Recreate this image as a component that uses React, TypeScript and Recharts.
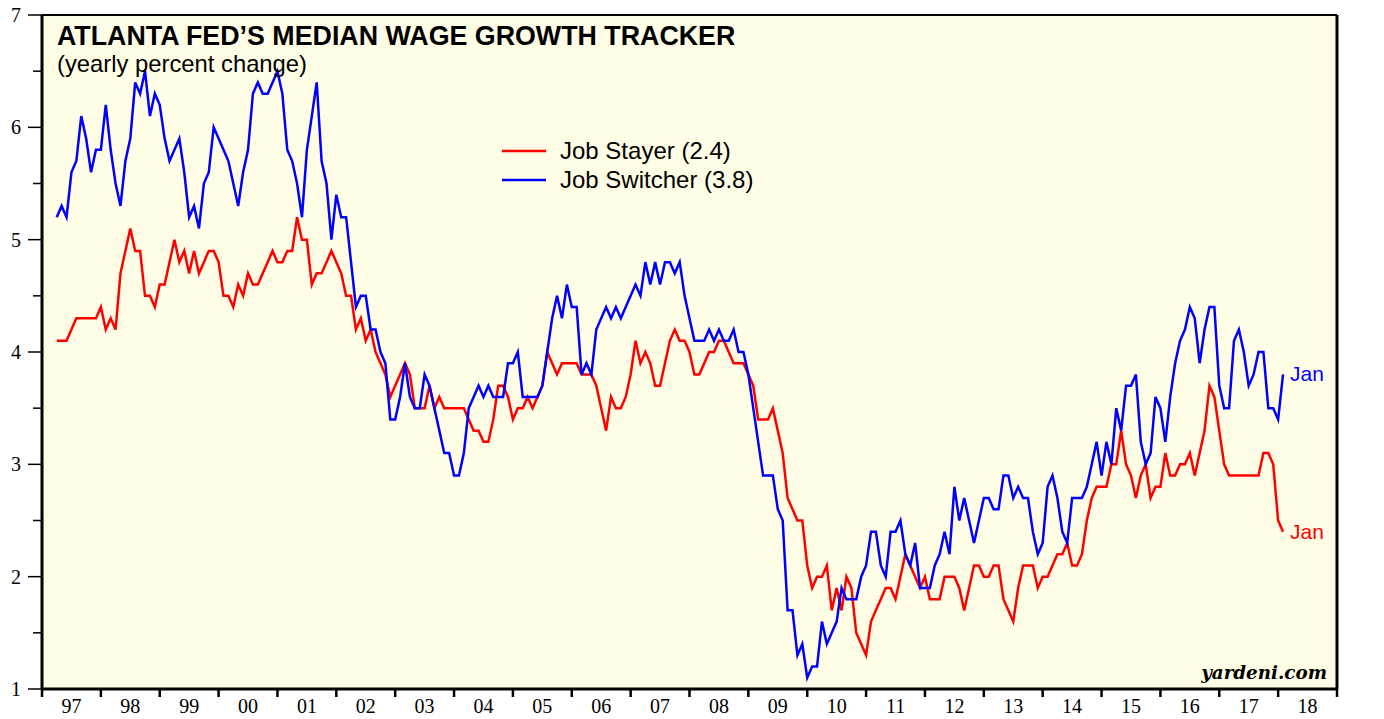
import React from 'react';
import { LineChart, Line, XAxis, YAxis, CartesianGrid, ReferenceLine } from 'recharts';

// months counted from Jan 1997, each value plotted at the end of its month (first = Mar 1997)
const firstMonth = 3;
const years = ['97', '98', '99', '00', '01', '02', '03', '04', '05', '06', '07', '08', '09', '10', '11', '12', '13', '14', '15', '16', '17', '18'];
const yearTicks = years.map((_, i) => i * 12).concat(years.length * 12);
const valueTicks = [1, 1.5, 2, 2.5, 3, 3.5, 4, 4.5, 5, 5.5, 6, 6.5, 7];

const jobStayer = [
  4.1, 4.1, 4.1, 4.2, 4.3, 4.3, 4.3, 4.3, 4.3, 4.4,
  4.2, 4.3, 4.2, 4.7, 4.9, 5.1, 4.9, 4.9, 4.5, 4.5,
  4.4, 4.6, 4.6, 4.8, 5.0, 4.8, 4.9, 4.7, 4.9, 4.7,
  4.8, 4.9, 4.9, 4.8, 4.5, 4.5, 4.4, 4.6, 4.5, 4.7,
  4.6, 4.6, 4.7, 4.8, 4.9, 4.8, 4.8, 4.9, 4.9, 5.2,
  5.0, 5.0, 4.6, 4.7, 4.7, 4.8, 4.9, 4.8, 4.7, 4.5,
  4.5, 4.2, 4.3, 4.1, 4.2, 4.0, 3.9, 3.8, 3.6, 3.7,
  3.8, 3.9, 3.8, 3.5, 3.5, 3.5, 3.7, 3.5, 3.6, 3.5,
  3.5, 3.5, 3.5, 3.5, 3.4, 3.3, 3.3, 3.2, 3.2, 3.4,
  3.7, 3.7, 3.6, 3.4, 3.5, 3.5, 3.6, 3.5, 3.6, 3.7,
  4.0, 3.9, 3.8, 3.9, 3.9, 3.9, 3.9, 3.8, 3.8, 3.8,
  3.7, 3.5, 3.3, 3.6, 3.5, 3.5, 3.6, 3.8, 4.1, 3.9,
  4.0, 3.9, 3.7, 3.7, 3.9, 4.1, 4.2, 4.1, 4.1, 4.0,
  3.8, 3.8, 3.9, 4.0, 4.0, 4.1, 4.1, 4.0, 3.9, 3.9,
  3.9, 3.8, 3.7, 3.4, 3.4, 3.4, 3.5, 3.3, 3.1, 2.7,
  2.6, 2.5, 2.5, 2.1, 1.9, 2.0, 2.0, 2.1, 1.7, 1.9,
  1.7, 2.0, 1.9, 1.5, 1.4, 1.3, 1.6, 1.7, 1.8, 1.9,
  1.9, 1.8, 2.0, 2.2, 2.1, 2.0, 1.9, 2.0, 1.8, 1.8,
  1.8, 2.0, 2.0, 2.0, 1.9, 1.7, 1.9, 2.1, 2.1, 2.0,
  2.0, 2.1, 2.1, 1.8, 1.7, 1.6, 1.9, 2.1, 2.1, 2.1,
  1.9, 2.0, 2.0, 2.1, 2.2, 2.2, 2.3, 2.1, 2.1, 2.2,
  2.5, 2.7, 2.8, 2.8, 2.8, 3.0, 3.0, 3.3, 3.0, 2.9,
  2.7, 2.9, 3.0, 2.7, 2.8, 2.8, 3.1, 2.9, 2.9, 3.0,
  3.0, 3.1, 2.9, 3.1, 3.3, 3.7, 3.6, 3.3, 3.0, 2.9,
  2.9, 2.9, 2.9, 2.9, 2.9, 2.9, 3.1, 3.1, 3.0, 2.5, 2.4,
];

const jobSwitcher = [
  5.2, 5.3, 5.2, 5.6, 5.7, 6.1, 5.9, 5.6, 5.8, 5.8,
  6.2, 5.8, 5.5, 5.3, 5.7, 5.9, 6.4, 6.3, 6.5, 6.1,
  6.3, 6.2, 5.9, 5.7, 5.8, 5.9, 5.6, 5.2, 5.3, 5.1,
  5.5, 5.6, 6.0, 5.9, 5.8, 5.7, 5.5, 5.3, 5.6, 5.8,
  6.3, 6.4, 6.3, 6.3, 6.4, 6.5, 6.3, 5.8, 5.7, 5.5,
  5.2, 5.8, 6.1, 6.4, 5.7, 5.5, 5.0, 5.4, 5.2, 5.2,
  4.8, 4.4, 4.5, 4.5, 4.2, 4.2, 4.0, 3.9, 3.4, 3.4,
  3.6, 3.9, 3.6, 3.5, 3.5, 3.8, 3.7, 3.5, 3.3, 3.1,
  3.1, 2.9, 2.9, 3.1, 3.5, 3.6, 3.7, 3.6, 3.7, 3.6,
  3.6, 3.6, 3.9, 3.9, 4.0, 3.6, 3.6, 3.6, 3.6, 3.7,
  4.0, 4.3, 4.5, 4.3, 4.6, 4.4, 4.4, 3.8, 3.9, 3.8,
  4.2, 4.3, 4.4, 4.3, 4.4, 4.3, 4.4, 4.5, 4.6, 4.5,
  4.8, 4.6, 4.8, 4.6, 4.8, 4.8, 4.7, 4.8, 4.5, 4.3,
  4.1, 4.1, 4.1, 4.2, 4.1, 4.2, 4.1, 4.1, 4.2, 4.0,
  4.0, 3.8, 3.5, 3.2, 2.9, 2.9, 2.9, 2.6, 2.5, 1.7,
  1.7, 1.3, 1.4, 1.1, 1.2, 1.2, 1.6, 1.4, 1.5, 1.6,
  1.9, 1.8, 1.8, 1.8, 2.0, 2.1, 2.4, 2.4, 2.1, 2.0,
  2.4, 2.4, 2.5, 2.2, 2.1, 2.3, 1.9, 1.9, 1.9, 2.1,
  2.2, 2.4, 2.2, 2.8, 2.5, 2.7, 2.5, 2.3, 2.5, 2.7,
  2.7, 2.6, 2.6, 2.9, 2.9, 2.7, 2.8, 2.7, 2.7, 2.4,
  2.2, 2.3, 2.8, 2.9, 2.7, 2.4, 2.3, 2.7, 2.7, 2.7,
  2.8, 3.0, 3.2, 2.9, 3.2, 3.0, 3.5, 3.3, 3.7, 3.7,
  3.8, 3.2, 3.0, 3.1, 3.6, 3.5, 3.2, 3.6, 3.9, 4.1,
  4.2, 4.4, 4.3, 3.9, 4.2, 4.4, 4.4, 3.7, 3.5, 3.5,
  4.1, 4.2, 4.0, 3.7, 3.8, 4.0, 4.0, 3.5, 3.5, 3.4, 3.8,
];

const data = jobStayer.map((v, i) => ({
  month: firstMonth + i,
  stayer: v,
  switcher: jobSwitcher[i],
}));

const W = 1384;
const H = 719;
const RED = '#ff0000';
const BLUE = '#0000ff';
const SERIF = "'Liberation Serif', 'Times New Roman', serif";
const SANS = "'Liberation Sans', Arial, Helvetica, sans-serif";
const halfYear = (1337 - 42) / years.length / 2;

const LeftTick = (props: any) => {
  const { x, y, payload } = props;
  const major = Number.isInteger(payload.value);
  return (
    <g>
      <line x1={x - (major ? 14 : 9)} x2={x} y1={y} y2={y} stroke="#000" strokeWidth={1.5} />
      {major && (
        <text x={x - 21} y={y + 7} textAnchor="end" fontFamily={SERIF} fontSize={20} fill="#000">
          {payload.value}
        </text>
      )}
    </g>
  );
};

const RightTick = (props: any) => {
  const { x, y, payload } = props;
  const major = Number.isInteger(payload.value);
  return (
    <g>
      <line x1={x} x2={x + (major ? 14 : 9)} y1={y} y2={y} stroke="#000" strokeWidth={1.5} />
      {major && (
        <text x={x + 22} y={y + 7} textAnchor="start" fontFamily={SERIF} fontSize={20} fill="#000">
          {payload.value}
        </text>
      )}
    </g>
  );
};

const YearTick = (props: any) => {
  const { x, y, payload } = props;
  const idx = Math.round(payload.value / 12);
  return (
    <g>
      <line x1={x} x2={x} y1={y} y2={y + 8} stroke="#000" strokeWidth={2.5} />
      {idx < years.length && (
        <text x={x + halfYear} y={y + 24} textAnchor="middle" fontFamily={SERIF} fontSize={20} fill="#000">
          {years[idx]}
        </text>
      )}
    </g>
  );
};

const endLabel = (color: string) => (props: any) => {
  const { x, y, index } = props;
  if (index !== data.length - 1) return null;
  return (
    <text key={`end-${color}`} x={x + 7} y={y + 7} fill={color} fontFamily={SANS} fontSize={21}>
      Jan
    </text>
  );
};

export default function App() {
  return (
    <div style={{ position: 'absolute', left: 0, top: 0, width: W, height: H, background: '#fff', overflow: 'hidden' }}>
      <LineChart width={W} height={H} data={data} margin={{ top: 15, right: 0, bottom: 0, left: 0 }}>
        <CartesianGrid horizontal={false} vertical={false} fill="#fffde6" />
        <XAxis
          xAxisId="x"
          dataKey="month"
          type="number"
          domain={[0, years.length * 12]}
          ticks={yearTicks}
          interval={0}
          height={30}
          tickSize={0}
          tickMargin={0}
          tickLine={false}
          tick={<YearTick />}
          axisLine={{ stroke: '#000', strokeWidth: 3 }}
        />
        <YAxis
          yAxisId="left"
          domain={[1, 7]}
          ticks={valueTicks}
          interval={0}
          width={42}
          tickSize={0}
          tickMargin={0}
          tickLine={false}
          tick={<LeftTick />}
          axisLine={{ stroke: '#000', strokeWidth: 3 }}
        />
        <YAxis
          yAxisId="right"
          orientation="right"
          domain={[1, 7]}
          ticks={valueTicks}
          interval={0}
          width={47}
          tickSize={0}
          tickMargin={0}
          tickLine={false}
          tick={<RightTick />}
          axisLine={{ stroke: '#000', strokeWidth: 3 }}
        />
        <ReferenceLine xAxisId="x" yAxisId="left" y={7} stroke="#000" strokeWidth={2} />
        <Line
          xAxisId="x"
          yAxisId="left"
          type="linear"
          dataKey="stayer"
          stroke={RED}
          strokeWidth={2.5}
          dot={false}
          isAnimationActive={false}
          label={endLabel(RED)}
        />
        <Line
          xAxisId="x"
          yAxisId="left"
          type="linear"
          dataKey="switcher"
          stroke={BLUE}
          strokeWidth={2.5}
          dot={false}
          isAnimationActive={false}
          label={endLabel(BLUE)}
        />
      </LineChart>
      <svg width={W} height={H} style={{ position: 'absolute', left: 0, top: 0, pointerEvents: 'none' }}>
        <text x={57} y={45} fontFamily={SANS} fontWeight="bold" fontSize={26.8} fill="#000">
          ATLANTA FED’S MEDIAN WAGE GROWTH TRACKER
        </text>
        <text x={57} y={72} fontFamily={SANS} fontSize={23.8} fill="#000">
          (yearly percent change)
        </text>
        <line x1={502} x2={546} y1={151} y2={151} stroke={RED} strokeWidth={2.5} />
        <text x={560} y={159} fontFamily={SANS} fontSize={24} fill="#000">
          Job Stayer (2.4)
        </text>
        <line x1={502} x2={546} y1={180} y2={180} stroke={BLUE} strokeWidth={2.5} />
        <text x={560} y={188} fontFamily={SANS} fontSize={24} fill="#000">
          Job Switcher (3.8)
        </text>
        <text x={1327} y={679} textAnchor="end" fontFamily="'DejaVu Serif', serif" fontStyle="italic" fontWeight="bold" fontSize={18.3} fill="#000">
          yardeni.com
        </text>
      </svg>
    </div>
  );
}
